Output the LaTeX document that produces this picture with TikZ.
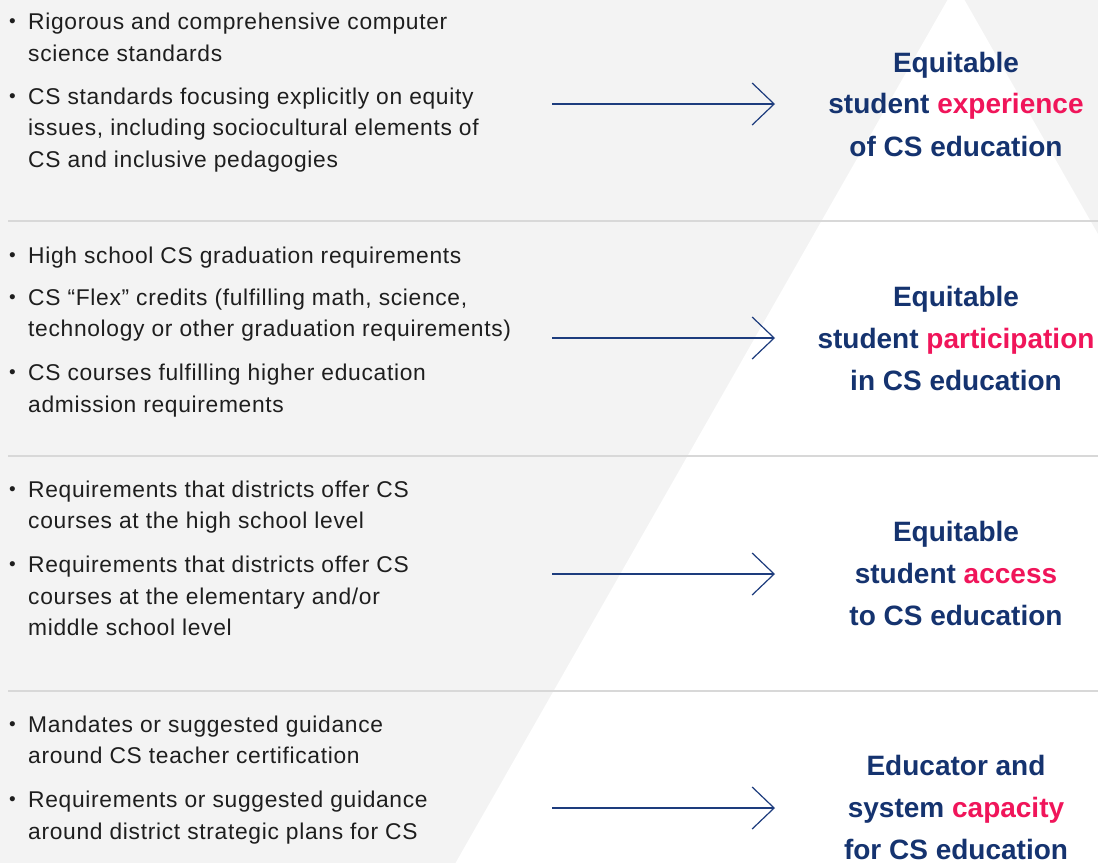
\documentclass[tikz,border=0pt]{standalone}
\usepackage{fontspec}
\setmainfont{Liberation Sans}
\newfontfamily\bodyfamily[LetterSpace=3]{Liberation Sans}
\usetikzlibrary{arrows.meta}
\definecolor{bgc}{HTML}{F3F3F3}
\definecolor{navy}{HTML}{15336F}
\definecolor{pinkc}{HTML}{F0155A}
\definecolor{arrowc}{HTML}{1D3C7D}
\definecolor{sepc}{HTML}{D8D8D8}
\definecolor{txt}{HTML}{1E1E1E}
\newcommand{\bodyfnt}{\bodyfamily\fontsize{22.8}{32}\selectfont}
\newcommand{\headfnt}{\fontsize{28}{42}\selectfont\bfseries}
\newcommand{\hl}[1]{\textcolor{pinkc}{#1}}
\tikzset{
  body/.style={anchor=base west, font=\bodyfnt, text=txt, inner sep=0pt},
  bul/.style={anchor=base, font=\fontsize{19}{19}\selectfont, text=txt, inner sep=0pt, yshift=2pt},
  head/.style={anchor=base, font=\headfnt, text=navy, inner sep=0pt},
  sepline/.style={draw=sepc, line width=1.5pt},
  arr/.style={draw=arrowc, line width=1.2pt, -{Straight Barb[length=22pt,width=42pt,line width=1.2pt]}}
}
\begin{document}
\begin{tikzpicture}[x=1pt,y=-1pt]
\useasboundingbox (0,0) rectangle (1098,863);
\begin{scope}
\clip (0,0) rectangle (1098,863);
\fill[bgc] (0,0) rectangle (1098,863);
\fill[white] (956,-15) -- (455.5,863) -- (1456.5,863) -- cycle;
\end{scope}
% separators
\draw[sepline] (8,221) -- (1098,221);
\draw[sepline] (8,456) -- (1098,456);
\draw[sepline] (8,691) -- (1098,691);
% section 1
\node[bul] (b1a) at (12.5,29) {•};
\node[body] (t1a) at (28,29) {Rigorous and comprehensive computer};
\node[body] (t1b) at (28,61) {science standards};
\node[bul] (b1b) at (12.5,104) {•};
\node[body] (t1c) at (28,104) {CS standards focusing explicitly on equity};
\node[body] (t1d) at (28,135) {issues, including sociocultural elements of};
\node[body] (t1e) at (28,167) {CS and inclusive pedagogies};
\node[head] (h1a) at (956,72) {Equitable};
\node[head] (h1b) at (956,113) {student \hl{experience}};
\node[head] (h1c) at (956,156) {of CS education};
\coordinate (s1) at (552,104);
\coordinate (e1) at (775,104);
\draw[arr] (s1) -- (e1);
% section 2
\node[bul] (b2a) at (12.5,263) {•};
\node[body] (t2a) at (28,263) {High school CS graduation requirements};
\node[bul] (b2b) at (12.5,305) {•};
\node[body] (t2b) at (28,305) {CS “Flex” credits (fulfilling math, science,};
\node[body] (t2c) at (28,336) {technology or other graduation requirements)};
\node[bul] (b2c) at (12.5,380) {•};
\node[body] (t2d) at (28,380) {CS courses fulfilling higher education};
\node[body] (t2e) at (28,412) {admission requirements};
\node[head] (h2a) at (956,306) {Equitable};
\node[head] (h2b) at (956,348) {student \hl{participation}};
\node[head] (h2c) at (956,390) {in CS education};
\coordinate (s2) at (552,338);
\coordinate (e2) at (775,338);
\draw[arr] (s2) -- (e2);
% section 3
\node[bul] (b3a) at (12.5,497) {•};
\node[body] (t3a) at (28,497) {Requirements that districts offer CS};
\node[body] (t3b) at (28,528) {courses at the high school level};
\node[bul] (b3b) at (12.5,572) {•};
\node[body] (t3c) at (28,572) {Requirements that districts offer CS};
\node[body] (t3d) at (28,604) {courses at the elementary and/or};
\node[body] (t3e) at (28,635) {middle school level};
\node[head] (h3a) at (956,541) {Equitable};
\node[head] (h3b) at (956,583) {student \hl{access}};
\node[head] (h3c) at (956,625) {to CS education};
\coordinate (s3) at (552,574);
\coordinate (e3) at (775,574);
\draw[arr] (s3) -- (e3);
% section 4
\node[bul] (b4a) at (12.5,732) {•};
\node[body] (t4a) at (28,732) {Mandates or suggested guidance};
\node[body] (t4b) at (28,763) {around CS teacher certification};
\node[bul] (b4b) at (12.5,807) {•};
\node[body] (t4c) at (28,807) {Requirements or suggested guidance};
\node[body] (t4d) at (28,839) {around district strategic plans for CS};
\node[head] (h4a) at (956,775) {Educator and};
\node[head] (h4b) at (956,817) {system \hl{capacity}};
\node[head] (h4c) at (956,859) {for CS education};
\coordinate (s4) at (552,808);
\coordinate (e4) at (775,808);
\draw[arr] (s4) -- (e4);
\end{tikzpicture}
\end{document}
